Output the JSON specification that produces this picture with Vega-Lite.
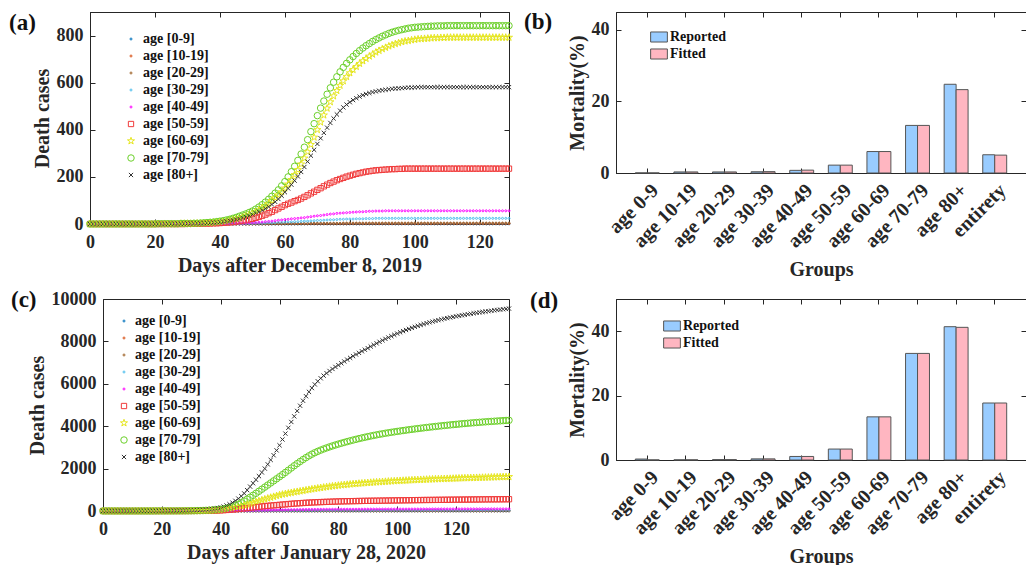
{
"$schema":"https://vega.github.io/schema/vega-lite/v6.json",
"background":"white",
"padding":{"left":8,"top":10,"right":0,"bottom":0},
"config":{
 "font":"Liberation Serif",
 "view":{"stroke":"#262626","strokeWidth":1},
 "axis":{"labelFont":"Liberation Serif","labelFontWeight":"bold","labelFontSize":18,"labelColor":"#262626","titleFont":"Liberation Serif","titleFontWeight":"bold","titleFontSize":20,"titleColor":"#262626","domainColor":"#262626","tickColor":"#262626","tickSize":-5,"labelPadding":12,"titlePadding":4,"grid":false,"labelFlush":false,"labelOverlap":false},
 "title":{"font":"Liberation Serif","fontSize":23,"fontWeight":"bold","anchor":"start","frame":"group","color":"#111111"}
},
"columns":2,
"bounds":"flush",
"spacing":{"row":75,"column":107},
"resolve":{"scale":{"color":"independent","shape":"independent","size":"independent","fill":"independent"},"legend":{"color":"independent","shape":"independent","size":"independent","fill":"independent"}},
"datasets":{
"names":[{"k":"a","n":"age [0-9]"},{"k":"b","n":"age [10-19]"},{"k":"c","n":"age [20-29]"},{"k":"e","n":"age [30-29]"},{"k":"f","n":"age [40-49]"},{"k":"g","n":"age [50-59]"},{"k":"h","n":"age [60-69]"},{"k":"i","n":"age [70-79]"},{"k":"j","n":"age [80+]"}],
"A":[
{"t":0,"a":0,"b":0,"c":0,"e":0,"f":0,"g":0,"h":0,"i":0,"j":0},
{"t":1,"a":0,"b":0,"c":0,"e":0,"f":0,"g":0,"h":0,"i":0,"j":0},
{"t":2,"a":0,"b":0,"c":0,"e":0,"f":0,"g":0,"h":0,"i":0,"j":0},
{"t":3,"a":0,"b":0,"c":0,"e":0,"f":0,"g":0,"h":0,"i":0,"j":0},
{"t":4,"a":0,"b":0,"c":0,"e":0,"f":0,"g":0,"h":0,"i":0,"j":0},
{"t":5,"a":0,"b":0,"c":0,"e":0,"f":0,"g":0,"h":0,"i":0,"j":0},
{"t":6,"a":0,"b":0,"c":0,"e":0,"f":0,"g":0,"h":0,"i":0,"j":0},
{"t":7,"a":0,"b":0,"c":0,"e":0,"f":0,"g":0,"h":0,"i":0,"j":0},
{"t":8,"a":0,"b":0,"c":0,"e":0,"f":0,"g":0,"h":0,"i":0,"j":0},
{"t":9,"a":0,"b":0,"c":0,"e":0,"f":0,"g":0,"h":0,"i":0,"j":0},
{"t":10,"a":0,"b":0,"c":0,"e":0,"f":0,"g":0,"h":0,"i":0,"j":0},
{"t":11,"a":0,"b":0,"c":0,"e":0,"f":0,"g":0,"h":0,"i":0,"j":0},
{"t":12,"a":0,"b":0,"c":0,"e":0,"f":0,"g":0,"h":0,"i":0,"j":0},
{"t":13,"a":0,"b":0,"c":0,"e":0,"f":0,"g":0,"h":0,"i":0,"j":0},
{"t":14,"a":0,"b":0,"c":0,"e":0,"f":0,"g":0,"h":0,"i":0,"j":0},
{"t":15,"a":0,"b":0,"c":0,"e":0,"f":0,"g":0,"h":0,"i":0,"j":0},
{"t":16,"a":0,"b":0,"c":0,"e":0,"f":0,"g":0,"h":0,"i":0,"j":0},
{"t":17,"a":0,"b":0,"c":0,"e":0,"f":0,"g":0,"h":0,"i":0,"j":0},
{"t":18,"a":0,"b":0,"c":0,"e":0,"f":0,"g":0,"h":0,"i":0,"j":0},
{"t":19,"a":0,"b":0,"c":0,"e":0,"f":0,"g":0,"h":0,"i":0,"j":0},
{"t":20,"a":0,"b":0,"c":0,"e":0,"f":0,"g":0,"h":0,"i":0,"j":0},
{"t":21,"a":0,"b":0,"c":0,"e":0,"f":0,"g":0,"h":1,"i":1,"j":0},
{"t":22,"a":0,"b":0,"c":0,"e":0,"f":0,"g":0,"h":1,"i":1,"j":0},
{"t":23,"a":0,"b":0,"c":0,"e":0,"f":0,"g":0,"h":1,"i":1,"j":0},
{"t":24,"a":0,"b":0,"c":0,"e":0,"f":0,"g":0,"h":1,"i":1,"j":0},
{"t":25,"a":0,"b":0,"c":0,"e":0,"f":0,"g":0,"h":1,"i":1,"j":1},
{"t":26,"a":0,"b":0,"c":0,"e":0,"f":0,"g":0,"h":1,"i":1,"j":1},
{"t":27,"a":0,"b":0,"c":0,"e":0,"f":0,"g":0,"h":1,"i":1,"j":1},
{"t":28,"a":0,"b":0,"c":0,"e":0,"f":0,"g":0,"h":2,"i":2,"j":1},
{"t":29,"a":0,"b":0,"c":0,"e":0,"f":0,"g":0,"h":2,"i":2,"j":1},
{"t":30,"a":0,"b":0,"c":0,"e":0,"f":0,"g":1,"h":2,"i":2,"j":2},
{"t":31,"a":0,"b":0,"c":0,"e":0,"f":0,"g":1,"h":2,"i":2,"j":2},
{"t":32,"a":0,"b":0,"c":0,"e":0,"f":0,"g":1,"h":2,"i":3,"j":2},
{"t":33,"a":0,"b":0,"c":0,"e":0,"f":0,"g":1,"h":3,"i":3,"j":3},
{"t":34,"a":0,"b":0,"c":0,"e":0,"f":0,"g":1,"h":3,"i":4,"j":3},
{"t":35,"a":0,"b":0,"c":0,"e":0,"f":0,"g":2,"h":4,"i":5,"j":4},
{"t":36,"a":0,"b":0,"c":0,"e":0,"f":0,"g":2,"h":5,"i":6,"j":4},
{"t":37,"a":0,"b":0,"c":0,"e":0,"f":0,"g":2,"h":6,"i":7,"j":5},
{"t":38,"a":0,"b":0,"c":0,"e":0,"f":0,"g":3,"h":7,"i":8,"j":6},
{"t":39,"a":0,"b":0,"c":0,"e":0,"f":0,"g":3,"h":8,"i":10,"j":7},
{"t":40,"a":0,"b":0,"c":0,"e":0,"f":1,"g":4,"h":9,"i":12,"j":8},
{"t":41,"a":0,"b":0,"c":0,"e":0,"f":1,"g":5,"h":11,"i":14,"j":10},
{"t":42,"a":0,"b":0,"c":0,"e":0,"f":1,"g":6,"h":13,"i":17,"j":12},
{"t":43,"a":0,"b":0,"c":0,"e":0,"f":2,"g":7,"h":16,"i":20,"j":14},
{"t":44,"a":0,"b":0,"c":0,"e":0,"f":2,"g":8,"h":19,"i":24,"j":16},
{"t":45,"a":0,"b":0,"c":0,"e":1,"f":2,"g":10,"h":23,"i":28,"j":19},
{"t":46,"a":0,"b":0,"c":0,"e":1,"f":3,"g":12,"h":26,"i":33,"j":22},
{"t":47,"a":0,"b":0,"c":0,"e":1,"f":3,"g":14,"h":31,"i":38,"j":26},
{"t":48,"a":0,"b":0,"c":0,"e":2,"f":4,"g":16,"h":36,"i":43,"j":30},
{"t":49,"a":0,"b":0,"c":0,"e":2,"f":5,"g":19,"h":40,"i":49,"j":35},
{"t":50,"a":0,"b":0,"c":1,"e":2,"f":5,"g":22,"h":46,"i":55,"j":40},
{"t":51,"a":0,"b":0,"c":1,"e":3,"f":6,"g":26,"h":52,"i":63,"j":46},
{"t":52,"a":0,"b":0,"c":1,"e":3,"f":7,"g":30,"h":59,"i":72,"j":52},
{"t":53,"a":0,"b":0,"c":1,"e":3,"f":8,"g":35,"h":68,"i":82,"j":58},
{"t":54,"a":0,"b":0,"c":1,"e":4,"f":10,"g":40,"h":77,"i":93,"j":65},
{"t":55,"a":0,"b":0,"c":1,"e":5,"f":11,"g":46,"h":87,"i":105,"j":73},
{"t":56,"a":0,"b":1,"c":1,"e":5,"f":12,"g":52,"h":99,"i":118,"j":83},
{"t":57,"a":0,"b":1,"c":1,"e":6,"f":14,"g":59,"h":111,"i":131,"j":94},
{"t":58,"a":0,"b":1,"c":1,"e":7,"f":16,"g":66,"h":123,"i":145,"j":106},
{"t":59,"a":0,"b":1,"c":1,"e":7,"f":17,"g":73,"h":136,"i":162,"j":120},
{"t":60,"a":0,"b":1,"c":2,"e":8,"f":19,"g":80,"h":152,"i":180,"j":135},
{"t":61,"a":0,"b":1,"c":2,"e":9,"f":20,"g":86,"h":169,"i":200,"j":151},
{"t":62,"a":0,"b":1,"c":2,"e":9,"f":22,"g":91,"h":188,"i":222,"j":167},
{"t":63,"a":0,"b":1,"c":2,"e":10,"f":23,"g":97,"h":209,"i":245,"j":184},
{"t":64,"a":0,"b":1,"c":2,"e":10,"f":24,"g":102,"h":230,"i":270,"j":202},
{"t":65,"a":0,"b":1,"c":2,"e":11,"f":26,"g":108,"h":254,"i":297,"j":221},
{"t":66,"a":0.5,"b":1,"c":2,"e":12,"f":27,"g":115,"h":279,"i":326,"j":242},
{"t":67,"a":0.5,"b":1,"c":2,"e":12,"f":29,"g":122,"h":306,"i":358,"j":265},
{"t":68,"a":0.5,"b":1,"c":3,"e":13,"f":31,"g":130,"h":337,"i":392,"j":290},
{"t":69,"a":0.5,"b":1,"c":3,"e":14,"f":33,"g":137,"h":368,"i":426,"j":315},
{"t":70,"a":0.5,"b":1,"c":3,"e":15,"f":35,"g":145,"h":400,"i":460,"j":340},
{"t":71,"a":0.5,"b":1,"c":3,"e":15,"f":36,"g":152,"h":432,"i":492,"j":364},
{"t":72,"a":0.5,"b":1,"c":3,"e":16,"f":38,"g":160,"h":462,"i":522,"j":387},
{"t":73,"a":0.5,"b":1,"c":3,"e":17,"f":40,"g":167,"h":491,"i":551,"j":409},
{"t":74,"a":0.5,"b":1,"c":3,"e":18,"f":42,"g":174,"h":518,"i":578,"j":429},
{"t":75,"a":0.5,"b":1,"c":3,"e":18,"f":43,"g":180,"h":543,"i":602,"j":448},
{"t":76,"a":0.5,"b":1,"c":3,"e":19,"f":45,"g":186,"h":566,"i":625,"j":465},
{"t":77,"a":0.5,"b":1,"c":3,"e":20,"f":46,"g":191,"h":588,"i":646,"j":481},
{"t":78,"a":0.5,"b":1,"c":4,"e":20,"f":47,"g":196,"h":607,"i":665,"j":495},
{"t":79,"a":0.5,"b":1,"c":4,"e":21,"f":48,"g":201,"h":625,"i":682,"j":507},
{"t":80,"a":0.5,"b":1.5,"c":4,"e":21,"f":49,"g":205,"h":641,"i":697,"j":517},
{"t":81,"a":0.5,"b":1.5,"c":4,"e":21,"f":50,"g":209,"h":655,"i":711,"j":526},
{"t":82,"a":0.5,"b":1.5,"c":4,"e":22,"f":51,"g":213,"h":668,"i":724,"j":534},
{"t":83,"a":0.5,"b":1.5,"c":4,"e":22,"f":52,"g":216,"h":681,"i":736,"j":541},
{"t":84,"a":0.5,"b":1.5,"c":4,"e":22,"f":52,"g":219,"h":692,"i":747,"j":547},
{"t":85,"a":0.5,"b":1.5,"c":4,"e":23,"f":53,"g":222,"h":702,"i":757,"j":552},
{"t":86,"a":0.5,"b":1.5,"c":4,"e":23,"f":54,"g":224,"h":712,"i":766,"j":556},
{"t":87,"a":0.5,"b":1.5,"c":4,"e":23,"f":54,"g":226,"h":720,"i":775,"j":560},
{"t":88,"a":0.5,"b":1.5,"c":4,"e":24,"f":55,"g":228,"h":729,"i":783,"j":563},
{"t":89,"a":0.5,"b":1.5,"c":4,"e":24,"f":55,"g":229,"h":736,"i":790,"j":566},
{"t":90,"a":0.5,"b":1.5,"c":4,"e":24,"f":55,"g":230,"h":743,"i":797,"j":568},
{"t":91,"a":0.5,"b":1.5,"c":4,"e":24,"f":56,"g":231,"h":749,"i":803,"j":570},
{"t":92,"a":0.5,"b":1.5,"c":4,"e":24,"f":56,"g":232,"h":755,"i":809,"j":572},
{"t":93,"a":0.5,"b":1.5,"c":4,"e":24,"f":56,"g":233,"h":760,"i":814,"j":574},
{"t":94,"a":0.5,"b":1.5,"c":4,"e":24,"f":56,"g":233,"h":765,"i":818,"j":575},
{"t":95,"a":0.5,"b":1.5,"c":4,"e":24,"f":56,"g":234,"h":769,"i":822,"j":576},
{"t":96,"a":0.5,"b":1.5,"c":4,"e":24,"f":56,"g":234,"h":773,"i":825,"j":577},
{"t":97,"a":0.5,"b":1.5,"c":4,"e":24,"f":56,"g":235,"h":776,"i":828,"j":578},
{"t":98,"a":0.5,"b":1.5,"c":4,"e":24,"f":56,"g":235,"h":778,"i":831,"j":579},
{"t":99,"a":0.5,"b":1.5,"c":4,"e":24,"f":56,"g":235,"h":781,"i":833,"j":579},
{"t":100,"a":0.5,"b":1.5,"c":4,"e":24,"f":56,"g":235,"h":783,"i":835,"j":580},
{"t":101,"a":0.5,"b":1.5,"c":4,"e":24,"f":56,"g":235,"h":785,"i":836,"j":581},
{"t":102,"a":0.5,"b":1.5,"c":4,"e":24,"f":56,"g":235,"h":786,"i":837,"j":581},
{"t":103,"a":0.5,"b":1.5,"c":4,"e":24,"f":56,"g":235,"h":787,"i":838,"j":581},
{"t":104,"a":0.5,"b":1.5,"c":4,"e":24,"f":56,"g":235,"h":788,"i":839,"j":581},
{"t":105,"a":0.5,"b":1.5,"c":4,"e":24,"f":56,"g":235,"h":789,"i":840,"j":581},
{"t":106,"a":0.5,"b":1.5,"c":4,"e":24,"f":56,"g":235,"h":790,"i":840,"j":581},
{"t":107,"a":0.5,"b":1.5,"c":4,"e":24,"f":56,"g":235,"h":790,"i":841,"j":581},
{"t":108,"a":0.5,"b":1.5,"c":4,"e":24,"f":56,"g":235,"h":791,"i":841,"j":581},
{"t":109,"a":0.5,"b":1.5,"c":4,"e":24,"f":56,"g":235,"h":791,"i":841,"j":581},
{"t":110,"a":0.5,"b":1.5,"c":4,"e":24,"f":56,"g":235,"h":792,"i":842,"j":581},
{"t":111,"a":0.5,"b":1.5,"c":4,"e":24,"f":56,"g":235,"h":792,"i":842,"j":581},
{"t":112,"a":0.5,"b":1.5,"c":4,"e":24,"f":56,"g":235,"h":792,"i":842,"j":581},
{"t":113,"a":0.5,"b":1.5,"c":4,"e":24,"f":56,"g":235,"h":792,"i":842,"j":581},
{"t":114,"a":0.5,"b":1.5,"c":4,"e":24,"f":56,"g":235,"h":792,"i":842,"j":581},
{"t":115,"a":0.5,"b":1.5,"c":4,"e":24,"f":56,"g":235,"h":792,"i":842,"j":581},
{"t":116,"a":0.5,"b":1.5,"c":4,"e":24,"f":56,"g":235,"h":792,"i":842,"j":581},
{"t":117,"a":0.5,"b":1.5,"c":4,"e":24,"f":56,"g":235,"h":792,"i":842,"j":581},
{"t":118,"a":0.5,"b":1.5,"c":4,"e":24,"f":56,"g":235,"h":792,"i":842,"j":581},
{"t":119,"a":0.5,"b":1.5,"c":4,"e":24,"f":56,"g":235,"h":792,"i":842,"j":581},
{"t":120,"a":0.5,"b":1.5,"c":4,"e":24,"f":56,"g":235,"h":792,"i":842,"j":581},
{"t":121,"a":0.5,"b":1.5,"c":4,"e":24,"f":56,"g":235,"h":792,"i":842,"j":581},
{"t":122,"a":0.5,"b":1.5,"c":4,"e":24,"f":56,"g":235,"h":792,"i":842,"j":581},
{"t":123,"a":0.5,"b":1.5,"c":4,"e":24,"f":56,"g":235,"h":792,"i":842,"j":581},
{"t":124,"a":0.5,"b":1.5,"c":4,"e":24,"f":56,"g":235,"h":792,"i":842,"j":581},
{"t":125,"a":0.5,"b":1.5,"c":4,"e":24,"f":56,"g":235,"h":792,"i":842,"j":581},
{"t":126,"a":0.5,"b":1.5,"c":4,"e":24,"f":56,"g":235,"h":792,"i":842,"j":581},
{"t":127,"a":0.5,"b":1.5,"c":4,"e":24,"f":56,"g":235,"h":792,"i":842,"j":581},
{"t":128,"a":0.5,"b":1.5,"c":4,"e":24,"f":56,"g":235,"h":792,"i":842,"j":581},
{"t":129,"a":0.5,"b":1.5,"c":4,"e":24,"f":56,"g":235,"h":792,"i":842,"j":581}
],
"C":[
{"t":0,"a":0,"b":0,"c":0,"e":0,"f":0,"g":0,"h":0,"i":0,"j":0},
{"t":1,"a":0,"b":0,"c":0,"e":0,"f":0,"g":0,"h":0,"i":0,"j":0},
{"t":2,"a":0,"b":0,"c":0,"e":0,"f":0,"g":0,"h":0,"i":0,"j":1},
{"t":3,"a":0,"b":0,"c":0,"e":0,"f":0,"g":0,"h":0,"i":0,"j":1},
{"t":4,"a":0,"b":0,"c":0,"e":0,"f":0,"g":0,"h":0,"i":0,"j":1},
{"t":5,"a":0,"b":0,"c":0,"e":0,"f":0,"g":0,"h":0,"i":0,"j":1},
{"t":6,"a":0,"b":0,"c":0,"e":0,"f":0,"g":0,"h":0,"i":0,"j":1},
{"t":7,"a":0,"b":0,"c":0,"e":0,"f":0,"g":0,"h":0,"i":0,"j":1},
{"t":8,"a":0,"b":0,"c":0,"e":0,"f":0,"g":0,"h":0,"i":0,"j":2},
{"t":9,"a":0,"b":0,"c":0,"e":0,"f":0,"g":0,"h":0,"i":0,"j":2},
{"t":10,"a":0,"b":0,"c":0,"e":0,"f":0,"g":0,"h":0,"i":1,"j":2},
{"t":11,"a":0,"b":0,"c":0,"e":0,"f":0,"g":0,"h":0,"i":1,"j":2},
{"t":12,"a":0,"b":0,"c":0,"e":0,"f":0,"g":0,"h":0,"i":1,"j":3},
{"t":13,"a":0,"b":0,"c":0,"e":0,"f":0,"g":0,"h":0,"i":1,"j":3},
{"t":14,"a":0,"b":0,"c":0,"e":0,"f":0,"g":0,"h":0,"i":1,"j":3},
{"t":15,"a":0,"b":0,"c":0,"e":0,"f":0,"g":0,"h":1,"i":1,"j":4},
{"t":16,"a":0,"b":0,"c":0,"e":0,"f":0,"g":0,"h":1,"i":1,"j":4},
{"t":17,"a":0,"b":0,"c":0,"e":0,"f":0,"g":0,"h":1,"i":1,"j":5},
{"t":18,"a":0,"b":0,"c":0,"e":0,"f":0,"g":0,"h":1,"i":2,"j":5},
{"t":19,"a":0,"b":0,"c":0,"e":0,"f":0,"g":0,"h":1,"i":2,"j":6},
{"t":20,"a":0,"b":0,"c":0,"e":0,"f":0,"g":1,"h":1,"i":2,"j":7},
{"t":21,"a":0,"b":0,"c":0,"e":0,"f":0,"g":1,"h":1,"i":2,"j":8},
{"t":22,"a":0,"b":0,"c":0,"e":0,"f":0,"g":1,"h":1,"i":3,"j":9},
{"t":23,"a":0,"b":0,"c":0,"e":0,"f":0,"g":1,"h":2,"i":3,"j":10},
{"t":24,"a":0,"b":0,"c":0,"e":0,"f":0,"g":1,"h":2,"i":3,"j":12},
{"t":25,"a":0,"b":0,"c":0,"e":0,"f":0,"g":1,"h":3,"i":4,"j":14},
{"t":26,"a":0,"b":0,"c":0,"e":0,"f":0,"g":1,"h":3,"i":5,"j":16},
{"t":27,"a":0,"b":0,"c":0,"e":0,"f":0,"g":2,"h":4,"i":6,"j":19},
{"t":28,"a":0,"b":0,"c":0,"e":0,"f":0,"g":2,"h":5,"i":7,"j":22},
{"t":29,"a":0,"b":0,"c":0,"e":0,"f":0,"g":3,"h":6,"i":9,"j":26},
{"t":30,"a":0,"b":0,"c":0,"e":0,"f":1,"g":3,"h":7,"i":11,"j":30},
{"t":31,"a":0,"b":0,"c":0,"e":0,"f":1,"g":4,"h":9,"i":13,"j":35},
{"t":32,"a":0,"b":0,"c":0,"e":0,"f":1,"g":5,"h":11,"i":16,"j":42},
{"t":33,"a":0,"b":0,"c":0,"e":0,"f":1,"g":6,"h":13,"i":19,"j":50},
{"t":34,"a":0,"b":0,"c":0,"e":0,"f":1,"g":8,"h":16,"i":23,"j":60},
{"t":35,"a":0,"b":0,"c":0,"e":1,"f":2,"g":10,"h":19,"i":28,"j":72},
{"t":36,"a":0,"b":0,"c":0,"e":1,"f":2,"g":12,"h":23,"i":34,"j":86},
{"t":37,"a":0,"b":0,"c":0,"e":1,"f":3,"g":15,"h":29,"i":42,"j":102},
{"t":38,"a":0,"b":0,"c":0,"e":1,"f":3,"g":19,"h":36,"i":52,"j":120},
{"t":39,"a":0,"b":0,"c":0,"e":1,"f":4,"g":24,"h":46,"i":64,"j":142},
{"t":40,"a":0,"b":0,"c":1,"e":2,"f":5,"g":30,"h":60,"i":80,"j":170},
{"t":41,"a":0,"b":0,"c":1,"e":2,"f":7,"g":39,"h":80,"i":100,"j":210},
{"t":42,"a":0,"b":1,"c":1,"e":3,"f":9,"g":49,"h":101,"i":125,"j":260},
{"t":43,"a":0,"b":1,"c":1,"e":4,"f":11,"g":59,"h":123,"i":155,"j":320},
{"t":44,"a":0,"b":1,"c":1,"e":4,"f":12,"g":69,"h":146,"i":195,"j":395},
{"t":45,"a":1,"b":1,"c":1,"e":5,"f":14,"g":80,"h":170,"i":250,"j":480},
{"t":46,"a":1,"b":1,"c":2,"e":6,"f":17,"g":94,"h":205,"i":318,"j":585},
{"t":47,"a":1,"b":1,"c":2,"e":7,"f":19,"g":108,"h":240,"i":392,"j":700},
{"t":48,"a":1,"b":1,"c":2,"e":8,"f":22,"g":122,"h":276,"i":472,"j":830},
{"t":49,"a":1,"b":1,"c":2,"e":8,"f":24,"g":136,"h":313,"i":558,"j":985},
{"t":50,"a":1,"b":2,"c":2,"e":9,"f":27,"g":150,"h":350,"i":648,"j":1150},
{"t":51,"a":1,"b":2,"c":4,"e":11,"f":30,"g":166,"h":392,"i":740,"j":1310},
{"t":52,"a":1,"b":2,"c":4,"e":12,"f":33,"g":182,"h":434,"i":834,"j":1475},
{"t":53,"a":1,"b":2,"c":4,"e":13,"f":36,"g":198,"h":476,"i":930,"j":1645},
{"t":54,"a":1,"b":2,"c":4,"e":14,"f":39,"g":214,"h":518,"i":1028,"j":1820},
{"t":55,"a":2,"b":3,"c":4,"e":14,"f":41,"g":230,"h":560,"i":1126,"j":2000},
{"t":56,"a":2,"b":3,"c":6,"e":15,"f":44,"g":243,"h":600,"i":1224,"j":2200},
{"t":57,"a":2,"b":3,"c":6,"e":16,"f":46,"g":255,"h":639,"i":1322,"j":2410},
{"t":58,"a":2,"b":3,"c":6,"e":17,"f":48,"g":267,"h":678,"i":1420,"j":2630},
{"t":59,"a":2,"b":3,"c":6,"e":18,"f":50,"g":279,"h":717,"i":1518,"j":2860},
{"t":60,"a":2,"b":4,"c":6,"e":18,"f":52,"g":290,"h":755,"i":1616,"j":3100},
{"t":61,"a":2,"b":4,"c":7,"e":19,"f":54,"g":303,"h":784,"i":1716,"j":3375},
{"t":62,"a":2,"b":4,"c":7,"e":20,"f":57,"g":315,"h":811,"i":1818,"j":3650},
{"t":63,"a":2,"b":4,"c":7,"e":21,"f":59,"g":327,"h":838,"i":1922,"j":3925},
{"t":64,"a":2,"b":4,"c":7,"e":21,"f":61,"g":339,"h":863,"i":2028,"j":4200},
{"t":65,"a":3,"b":4,"c":7,"e":22,"f":63,"g":350,"h":888,"i":2134,"j":4465},
{"t":66,"a":3,"b":4,"c":8,"e":23,"f":65,"g":360,"h":912,"i":2236,"j":4720},
{"t":67,"a":3,"b":4,"c":8,"e":23,"f":66,"g":369,"h":935,"i":2334,"j":4965},
{"t":68,"a":3,"b":4,"c":8,"e":24,"f":68,"g":378,"h":960,"i":2428,"j":5200},
{"t":69,"a":3,"b":4,"c":8,"e":25,"f":70,"g":387,"h":984,"i":2518,"j":5415},
{"t":70,"a":3,"b":5,"c":8,"e":25,"f":71,"g":395,"h":1008,"i":2602,"j":5620},
{"t":71,"a":3,"b":5,"c":9,"e":25,"f":72,"g":402,"h":1031,"i":2680,"j":5800},
{"t":72,"a":3,"b":5,"c":9,"e":26,"f":74,"g":409,"h":1053,"i":2750,"j":5970},
{"t":73,"a":3,"b":5,"c":9,"e":26,"f":75,"g":415,"h":1075,"i":2814,"j":6120},
{"t":74,"a":3,"b":5,"c":9,"e":27,"f":76,"g":421,"h":1096,"i":2872,"j":6260},
{"t":75,"a":3,"b":5,"c":9,"e":27,"f":77,"g":426,"h":1116,"i":2926,"j":6385},
{"t":76,"a":3,"b":5,"c":9,"e":27,"f":78,"g":431,"h":1135,"i":2976,"j":6500},
{"t":77,"a":3,"b":5,"c":9,"e":27,"f":78,"g":436,"h":1154,"i":3024,"j":6605},
{"t":78,"a":3,"b":5,"c":9,"e":28,"f":79,"g":441,"h":1172,"i":3070,"j":6700},
{"t":79,"a":3,"b":5,"c":9,"e":28,"f":80,"g":446,"h":1189,"i":3114,"j":6795},
{"t":80,"a":3,"b":5,"c":9,"e":28,"f":81,"g":450,"h":1206,"i":3156,"j":6880},
{"t":81,"a":3,"b":5,"c":10,"e":28,"f":81,"g":454,"h":1221,"i":3196,"j":6968},
{"t":82,"a":3,"b":5,"c":10,"e":29,"f":82,"g":457,"h":1235,"i":3235,"j":7055},
{"t":83,"a":3,"b":5,"c":10,"e":29,"f":83,"g":460,"h":1249,"i":3273,"j":7140},
{"t":84,"a":3,"b":5,"c":10,"e":29,"f":83,"g":463,"h":1262,"i":3310,"j":7223},
{"t":85,"a":4,"b":5,"c":10,"e":29,"f":84,"g":466,"h":1275,"i":3346,"j":7304},
{"t":86,"a":4,"b":5,"c":10,"e":29,"f":84,"g":469,"h":1287,"i":3381,"j":7383},
{"t":87,"a":4,"b":5,"c":10,"e":30,"f":85,"g":472,"h":1299,"i":3415,"j":7460},
{"t":88,"a":4,"b":5,"c":10,"e":30,"f":85,"g":475,"h":1310,"i":3447,"j":7535},
{"t":89,"a":4,"b":5,"c":10,"e":30,"f":86,"g":478,"h":1321,"i":3478,"j":7608},
{"t":90,"a":4,"b":6,"c":10,"e":30,"f":86,"g":480,"h":1332,"i":3508,"j":7680},
{"t":91,"a":4,"b":6,"c":10,"e":30,"f":87,"g":482,"h":1342,"i":3537,"j":7758},
{"t":92,"a":4,"b":6,"c":10,"e":30,"f":87,"g":484,"h":1352,"i":3565,"j":7834},
{"t":93,"a":4,"b":6,"c":10,"e":30,"f":87,"g":486,"h":1362,"i":3592,"j":7908},
{"t":94,"a":4,"b":6,"c":10,"e":31,"f":88,"g":488,"h":1371,"i":3618,"j":7980},
{"t":95,"a":4,"b":6,"c":10,"e":31,"f":88,"g":490,"h":1380,"i":3643,"j":8050},
{"t":96,"a":4,"b":6,"c":11,"e":31,"f":88,"g":492,"h":1389,"i":3667,"j":8118},
{"t":97,"a":4,"b":6,"c":11,"e":31,"f":89,"g":494,"h":1398,"i":3690,"j":8184},
{"t":98,"a":4,"b":6,"c":11,"e":31,"f":89,"g":496,"h":1406,"i":3712,"j":8248},
{"t":99,"a":4,"b":6,"c":11,"e":31,"f":89,"g":498,"h":1414,"i":3733,"j":8310},
{"t":100,"a":4,"b":6,"c":11,"e":32,"f":90,"g":500,"h":1422,"i":3754,"j":8370},
{"t":101,"a":4,"b":6,"c":11,"e":32,"f":90,"g":502,"h":1430,"i":3774,"j":8428},
{"t":102,"a":4,"b":6,"c":11,"e":32,"f":90,"g":504,"h":1437,"i":3794,"j":8484},
{"t":103,"a":4,"b":6,"c":11,"e":32,"f":91,"g":506,"h":1444,"i":3814,"j":8538},
{"t":104,"a":4,"b":6,"c":11,"e":32,"f":91,"g":508,"h":1451,"i":3833,"j":8590},
{"t":105,"a":4,"b":6,"c":11,"e":32,"f":91,"g":510,"h":1458,"i":3852,"j":8640},
{"t":106,"a":4,"b":6,"c":11,"e":32,"f":92,"g":512,"h":1465,"i":3870,"j":8688},
{"t":107,"a":4,"b":6,"c":11,"e":32,"f":92,"g":514,"h":1471,"i":3888,"j":8734},
{"t":108,"a":4,"b":6,"c":11,"e":32,"f":92,"g":516,"h":1477,"i":3905,"j":8778},
{"t":109,"a":4,"b":6,"c":11,"e":33,"f":93,"g":518,"h":1483,"i":3922,"j":8820},
{"t":110,"a":4,"b":6,"c":11,"e":33,"f":93,"g":520,"h":1489,"i":3939,"j":8860},
{"t":111,"a":4,"b":6,"c":11,"e":33,"f":93,"g":521,"h":1495,"i":3955,"j":8898},
{"t":112,"a":4,"b":6,"c":11,"e":33,"f":94,"g":523,"h":1500,"i":3971,"j":8934},
{"t":113,"a":4,"b":6,"c":11,"e":33,"f":94,"g":524,"h":1506,"i":3987,"j":8969},
{"t":114,"a":4,"b":6,"c":11,"e":33,"f":94,"g":526,"h":1511,"i":4002,"j":9003},
{"t":115,"a":4,"b":6,"c":11,"e":33,"f":95,"g":527,"h":1516,"i":4017,"j":9036},
{"t":116,"a":4,"b":6,"c":12,"e":33,"f":95,"g":529,"h":1521,"i":4032,"j":9068},
{"t":117,"a":4,"b":6,"c":12,"e":33,"f":95,"g":530,"h":1526,"i":4046,"j":9098},
{"t":118,"a":4,"b":6,"c":12,"e":33,"f":95,"g":532,"h":1531,"i":4060,"j":9127},
{"t":119,"a":4,"b":6,"c":12,"e":34,"f":96,"g":533,"h":1536,"i":4074,"j":9155},
{"t":120,"a":4,"b":6,"c":12,"e":34,"f":96,"g":535,"h":1541,"i":4088,"j":9182},
{"t":121,"a":4,"b":6,"c":12,"e":34,"f":96,"g":536,"h":1546,"i":4101,"j":9208},
{"t":122,"a":4,"b":6,"c":12,"e":34,"f":96,"g":538,"h":1550,"i":4114,"j":9233},
{"t":123,"a":4,"b":6,"c":12,"e":34,"f":97,"g":539,"h":1555,"i":4127,"j":9258},
{"t":124,"a":4,"b":6,"c":12,"e":34,"f":97,"g":540,"h":1559,"i":4139,"j":9282},
{"t":125,"a":4,"b":6,"c":12,"e":34,"f":97,"g":542,"h":1564,"i":4151,"j":9305},
{"t":126,"a":4,"b":6,"c":12,"e":34,"f":97,"g":543,"h":1568,"i":4163,"j":9327},
{"t":127,"a":4,"b":6,"c":12,"e":34,"f":98,"g":544,"h":1572,"i":4174,"j":9348},
{"t":128,"a":4,"b":6,"c":12,"e":34,"f":98,"g":546,"h":1576,"i":4185,"j":9369},
{"t":129,"a":4,"b":6,"c":12,"e":34,"f":98,"g":547,"h":1580,"i":4196,"j":9389},
{"t":130,"a":4,"b":6,"c":12,"e":34,"f":98,"g":548,"h":1584,"i":4206,"j":9408},
{"t":131,"a":4,"b":6,"c":12,"e":34,"f":98,"g":549,"h":1588,"i":4216,"j":9427},
{"t":132,"a":4,"b":6,"c":12,"e":35,"f":99,"g":550,"h":1592,"i":4226,"j":9446},
{"t":133,"a":4,"b":6,"c":12,"e":35,"f":99,"g":551,"h":1596,"i":4235,"j":9464},
{"t":134,"a":4,"b":6,"c":12,"e":35,"f":99,"g":552,"h":1600,"i":4244,"j":9482},
{"t":135,"a":4,"b":6,"c":12,"e":35,"f":99,"g":553,"h":1604,"i":4253,"j":9499},
{"t":136,"a":4,"b":6,"c":12,"e":35,"f":99,"g":554,"h":1608,"i":4262,"j":9516},
{"t":137,"a":4,"b":6,"c":12,"e":35,"f":100,"g":555,"h":1612,"i":4270,"j":9532},
{"t":138,"a":4,"b":6,"c":12,"e":35,"f":100,"g":556,"h":1616,"i":4278,"j":9548}
],
"B":[
{"g":"age 0-9","s":"Reported","v":0.03},{"g":"age 0-9","s":"Fitted","v":0.03},
{"g":"age 10-19","s":"Reported","v":0.3},{"g":"age 10-19","s":"Fitted","v":0.3},
{"g":"age 20-29","s":"Reported","v":0.3},{"g":"age 20-29","s":"Fitted","v":0.3},
{"g":"age 30-39","s":"Reported","v":0.35},{"g":"age 30-39","s":"Fitted","v":0.38},
{"g":"age 40-49","s":"Reported","v":0.74},{"g":"age 40-49","s":"Fitted","v":0.8},
{"g":"age 50-59","s":"Reported","v":2.2},{"g":"age 50-59","s":"Fitted","v":2.2},
{"g":"age 60-69","s":"Reported","v":6.0},{"g":"age 60-69","s":"Fitted","v":6.0},
{"g":"age 70-79","s":"Reported","v":13.3},{"g":"age 70-79","s":"Fitted","v":13.3},
{"g":"age 80+","s":"Reported","v":24.8},{"g":"age 80+","s":"Fitted","v":23.3},
{"g":"entirety","s":"Reported","v":5.1},{"g":"entirety","s":"Fitted","v":5.0}
],
"D":[
{"g":"age 0-9","s":"Reported","v":0.3},{"g":"age 0-9","s":"Fitted","v":0.03},
{"g":"age 10-19","s":"Reported","v":0.05},{"g":"age 10-19","s":"Fitted","v":0.05},
{"g":"age 20-29","s":"Reported","v":0.12},{"g":"age 20-29","s":"Fitted","v":0.12},
{"g":"age 30-39","s":"Reported","v":0.35},{"g":"age 30-39","s":"Fitted","v":0.35},
{"g":"age 40-49","s":"Reported","v":1.1},{"g":"age 40-49","s":"Fitted","v":1.1},
{"g":"age 50-59","s":"Reported","v":3.4},{"g":"age 50-59","s":"Fitted","v":3.4},
{"g":"age 60-69","s":"Reported","v":13.4},{"g":"age 60-69","s":"Fitted","v":13.4},
{"g":"age 70-79","s":"Reported","v":33.1},{"g":"age 70-79","s":"Fitted","v":33.1},
{"g":"age 80+","s":"Reported","v":41.4},{"g":"age 80+","s":"Fitted","v":41.2},
{"g":"entirety","s":"Reported","v":17.7},{"g":"entirety","s":"Fitted","v":17.7}
]
},
"concat":[
 {"title":{"text":"(a)","dx":-81,"dy":24,"offset":1},
  "width":419,"height":212,
  "data":{"name":"A"},
  "transform":[{"fold":["a","b","c","e","f","g","h","i","j"],"as":["k","v"]},{"lookup":"k","from":{"data":{"name":"names"},"key":"k","fields":["n"]}}],
  "layer":[
   {"mark":{"type":"point","filled":false,"strokeWidth":1,"opacity":1},
    "encoding":{
     "x":{"field":"t","type":"quantitative","scale":{"domain":[0,129],"nice":false},"axis":{"values":[0,20,40,60,80,100,120],"title":"Days after December 8, 2019","labelPadding":14}},
     "y":{"field":"v","type":"quantitative","scale":{"domain":[0,900],"nice":false},"axis":{"values":[0,200,400,600,800],"title":"Death cases"}},
     "color":{"field":"n","type":"nominal","scale":{"domain":["age [0-9]","age [10-19]","age [20-29]","age [30-29]","age [40-49]","age [50-59]","age [60-69]","age [70-79]","age [80+]"],"range":["#0072BD","#D95319","#A0642A","#4DBEEE","#FF00FF","#F03C3C","#E6E620","#6CD02A","#333333"]},
      "legend":{"orient":"none","legendX":34,"legendY":20,"title":null,"labelFont":"Liberation Serif","labelFontWeight":"bold","labelFontSize":14,"labelColor":"#111111","rowPadding":3,"labelOffset":5,"symbolStrokeWidth":1,"padding":0}},
     "shape":{"field":"n","type":"nominal","scale":{"domain":["age [0-9]","age [10-19]","age [20-29]","age [30-29]","age [40-49]","age [50-59]","age [60-69]","age [70-79]","age [80+]"],"range":["circle","circle","circle","circle","circle","square","M0,-1L0.2245,-0.309L0.951,-0.309L0.363,0.118L0.588,0.809L0,0.382L-0.588,0.809L-0.363,0.118L-0.951,-0.309L-0.2245,-0.309Z","circle","M-1,-1L1,1M-1,1L1,-1"]}},
     "size":{"field":"n","type":"nominal","scale":{"type":"ordinal","domain":["age [0-9]","age [10-19]","age [20-29]","age [30-29]","age [40-49]","age [50-59]","age [60-69]","age [70-79]","age [80+]"],"range":[4,4,4,4,4,28,55,42,18]}}
    }},
   {"transform":[{"filter":"datum.t == 0"}],
    "mark":{"type":"point","opacity":0},
    "encoding":{
     "x":{"field":"t","type":"quantitative","axis":{"orient":"top","values":[0,20,40,60,80,100,120],"labels":false,"title":null}},
     "y":{"field":"v","type":"quantitative","axis":{"orient":"right","values":[0,200,400,600,800],"labels":false,"title":null}}
    }}
  ],
  "resolve":{"axis":{"x":"independent","y":"independent"}}
 },
 {"title":{"text":"(b)","dx":-92,"dy":23,"offset":1},
  "width":410,"height":161,
  "data":{"name":"B"},
  "layer":[
   {"mark":{"type":"bar","stroke":"#555555","strokeWidth":1},
    "encoding":{
     "x":{"field":"g","type":"nominal","sort":null,"scale":{"paddingInner":0.38,"paddingOuter":0.5},"axis":{"labelAngle":-45,"labelAlign":"right","labelBaseline":"middle","labelPadding":19,"labelOffset":8,"title":"Groups","titlePadding":8,"bandPosition":0.5,"labelFontSize":20}},
     "xOffset":{"field":"s","type":"nominal","sort":["Reported","Fitted"],"scale":{"paddingInner":0,"paddingOuter":0}},
     "y":{"field":"v","type":"quantitative","stack":null,"scale":{"domain":[0,45],"nice":false},"axis":{"values":[0,20,40],"title":"Mortality(%)"}},
     "fill":{"field":"s","type":"nominal","scale":{"domain":["Reported","Fitted"],"range":["#99CCFF","#FFB6C1"]},
      "legend":{"orient":"none","legendX":34,"legendY":16,"title":null,"labelFont":"Liberation Serif","labelFontWeight":"bold","labelFontSize":14,"labelColor":"#111111","rowPadding":0,"labelOffset":2,"symbolType":"M-1,-0.6H1V0.6H-1Z","symbolSize":280,"symbolStrokeColor":"#555555","symbolStrokeWidth":1,"padding":0}}
    }},
   {"transform":[{"filter":"datum.s == 'Reported'"}],
    "mark":{"type":"point","opacity":0},
    "encoding":{
     "x":{"field":"g","type":"nominal","sort":null,"axis":{"orient":"top","labels":false,"title":null,"bandPosition":0.5}},
     "y":{"field":"v","type":"quantitative","stack":null,"axis":{"orient":"right","values":[0,20,40],"labels":false,"title":null}}
    }}
  ],
  "resolve":{"axis":{"x":"independent","y":"independent"}}
 },
 {"title":{"text":"(c)","dx":-79,"dy":23,"offset":1},
  "width":419,"height":212,
  "view":{"stroke":null},
  "data":{"name":"C"},
  "transform":[{"fold":["a","b","c","e","f","g","h","i","j"],"as":["k","v"]},{"lookup":"k","from":{"data":{"name":"names"},"key":"k","fields":["n"]}}],
  "layer":[
   {"mark":{"type":"point","filled":false,"strokeWidth":1,"opacity":1},
    "encoding":{
     "x":{"field":"t","type":"quantitative","scale":{"domain":[0,138],"nice":false,"range":[13,419]},"axis":{"values":[0,20,40,60,80,100,120],"title":"Days after January 28, 2020","labelPadding":14}},
     "y":{"field":"v","type":"quantitative","scale":{"domain":[0,10000],"nice":false},"axis":{"values":[0,2000,4000,6000,8000,10000],"title":"Death cases","format":"d","offset":-13}},
     "color":{"field":"n","type":"nominal","scale":{"domain":["age [0-9]","age [10-19]","age [20-29]","age [30-29]","age [40-49]","age [50-59]","age [60-69]","age [70-79]","age [80+]"],"range":["#0072BD","#D95319","#A0642A","#4DBEEE","#FF00FF","#F03C3C","#E6E620","#6CD02A","#333333"]},
      "legend":{"orient":"none","legendX":27,"legendY":15,"title":null,"labelFont":"Liberation Serif","labelFontWeight":"bold","labelFontSize":14,"labelColor":"#111111","rowPadding":3,"labelOffset":4,"symbolStrokeWidth":1,"padding":0}},
     "shape":{"field":"n","type":"nominal","scale":{"domain":["age [0-9]","age [10-19]","age [20-29]","age [30-29]","age [40-49]","age [50-59]","age [60-69]","age [70-79]","age [80+]"],"range":["circle","circle","circle","circle","circle","square","M0,-1L0.2245,-0.309L0.951,-0.309L0.363,0.118L0.588,0.809L0,0.382L-0.588,0.809L-0.363,0.118L-0.951,-0.309L-0.2245,-0.309Z","circle","M-1,-1L1,1M-1,1L1,-1"]}},
     "size":{"field":"n","type":"nominal","scale":{"type":"ordinal","domain":["age [0-9]","age [10-19]","age [20-29]","age [30-29]","age [40-49]","age [50-59]","age [60-69]","age [70-79]","age [80+]"],"range":[4,4,4,4,4,28,55,42,18]}}
    }},
   {"transform":[{"filter":"datum.t == 0"}],
    "mark":{"type":"point","opacity":0},
    "encoding":{
     "x":{"field":"t","type":"quantitative","axis":{"orient":"top","values":[0,20,40,60,80,100,120],"labels":false,"title":null}},
     "y":{"field":"v","type":"quantitative","axis":{"orient":"right","values":[0,2000,4000,6000,8000,10000],"labels":false,"title":null}}
    }}
  ],
  "resolve":{"axis":{"x":"independent","y":"independent"}}
 },
 {"title":{"text":"(d)","dx":-86,"dy":15,"offset":1},
  "width":410,"height":161,
  "data":{"name":"D"},
  "layer":[
   {"mark":{"type":"bar","stroke":"#555555","strokeWidth":1},
    "encoding":{
     "x":{"field":"g","type":"nominal","sort":null,"scale":{"paddingInner":0.38,"paddingOuter":0.5},"axis":{"labelAngle":-45,"labelAlign":"right","labelBaseline":"middle","labelPadding":19,"labelOffset":8,"title":"Groups","titlePadding":8,"bandPosition":0.5,"labelFontSize":20}},
     "xOffset":{"field":"s","type":"nominal","sort":["Reported","Fitted"],"scale":{"paddingInner":0,"paddingOuter":0}},
     "y":{"field":"v","type":"quantitative","stack":null,"scale":{"domain":[0,50],"nice":false},"axis":{"values":[0,20,40],"title":"Mortality(%)"}},
     "fill":{"field":"s","type":"nominal","scale":{"domain":["Reported","Fitted"],"range":["#99CCFF","#FFB6C1"]},
      "legend":{"orient":"none","legendX":47,"legendY":18,"title":null,"labelFont":"Liberation Serif","labelFontWeight":"bold","labelFontSize":14,"labelColor":"#111111","rowPadding":0,"labelOffset":2,"symbolType":"M-1,-0.6H1V0.6H-1Z","symbolSize":280,"symbolStrokeColor":"#555555","symbolStrokeWidth":1,"padding":0}}
    }},
   {"transform":[{"filter":"datum.s == 'Reported'"}],
    "mark":{"type":"point","opacity":0},
    "encoding":{
     "x":{"field":"g","type":"nominal","sort":null,"axis":{"orient":"top","labels":false,"title":null,"bandPosition":0.5}},
     "y":{"field":"v","type":"quantitative","stack":null,"axis":{"orient":"right","values":[0,20,40],"labels":false,"title":null}}
    }}
  ],
  "resolve":{"axis":{"x":"independent","y":"independent"}}
 }
]
}
